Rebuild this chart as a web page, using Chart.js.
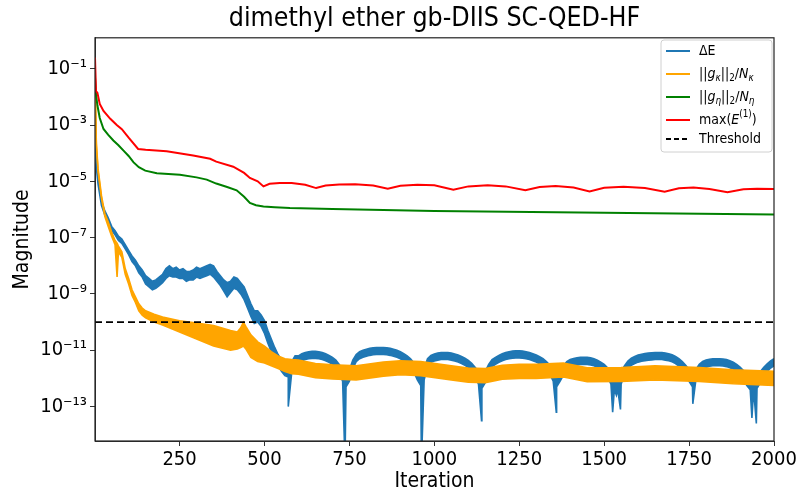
<!DOCTYPE html>
<html>
<head>
<meta charset="utf-8">
<script src="https://cdn.jsdelivr.net/npm/chart.js@4.4.0/dist/chart.umd.min.js"></script>
<style>
    html, body { margin: 0; padding: 0; background: #fff; }
</style>
</head>
<body>
<canvas id="grafico" width="801" height="495"></canvas>
<script>
const FONTE = '"DejaVu Sans Condensed", "Liberation Sans Narrow", "DejaVu Sans", sans-serif';

// iteration grid for ΔE: 1, 5, then every 10 iterations
const iteracoes = [1, 5];
for (let i = 10; i <= 2000; i += 10) iteracoes.push(i);

// all values are log10 of what was read off the picture
// ΔE oscillates fast, so its band is given by an upper and a lower envelope
const dEsup = [-2.1, -4.3,
    -4.9, -5.7, -6.05, -6.3, -6.6, -6.75, -6.95, -7.05, -7.25, -7.45,
    -7.65, -7.8, -8.0, -8.15, -8.35, -8.45, -8.55, -8.5, -8.4, -8.3,
    -8.1, -8.0, -8.1, -8.05, -8.15, -8.1, -8.2, -8.2, -8.15, -8.05,
    -8.1, -8.05, -8.0, -7.95, -8.0, -8.2, -8.35, -8.5, -8.6, -8.55,
    -8.4, -8.45, -8.6, -8.75, -9.05, -9.35, -9.6, -9.6, -9.75, -9.95,
    -10.3, -10.6, -10.9, -11.15, -11.35, -11.5, -11.55, -11.4, -11.2, -11.2,
    -11.12, -11.08, -11.05, -11.04, -11.04, -11.05, -11.08, -11.12, -11.18, -11.25,
    -11.35, -11.5, -11.7, -11.8, -11.7, -11.35, -11.15, -11.05, -11.0, -10.96,
    -10.93, -10.91, -10.9, -10.9, -10.9, -10.91, -10.93, -10.96, -11.0, -11.05,
    -11.12, -11.2, -11.3, -11.45, -11.65, -11.75, -11.65, -11.3, -11.18, -11.13,
    -11.1, -11.08, -11.08, -11.08, -11.1, -11.13, -11.17, -11.22, -11.28, -11.36,
    -11.46, -11.6, -11.75, -11.85, -11.75, -11.5, -11.33, -11.25, -11.18, -11.12,
    -11.08, -11.05, -11.03, -11.02, -11.02, -11.03, -11.05, -11.08, -11.12, -11.17,
    -11.23, -11.3, -11.4, -11.52, -11.68, -11.8, -11.72, -11.55, -11.4, -11.33,
    -11.29, -11.27, -11.25, -11.25, -11.25, -11.27, -11.3, -11.35, -11.42, -11.5,
    -11.62, -11.75, -11.85, -11.85, -11.75, -11.55, -11.38, -11.28, -11.22, -11.17,
    -11.14, -11.12, -11.1, -11.09, -11.08, -11.08, -11.08, -11.1, -11.12, -11.16,
    -11.22, -11.3, -11.4, -11.53, -11.68, -11.78, -11.68, -11.5, -11.4, -11.35,
    -11.32, -11.3, -11.3, -11.3, -11.31, -11.33, -11.37, -11.42, -11.5, -11.6,
    -11.72, -11.82, -11.88, -11.88, -11.85, -11.75, -11.6, -11.48, -11.38, -11.3];

const dEinf = [-2.3, -4.5,
    -5.1, -5.85, -6.2, -6.45, -6.75, -6.9, -7.1, -7.2, -7.4, -7.6,
    -7.85, -8.0, -8.25, -8.4, -8.65, -8.75, -8.85, -8.8, -8.7, -8.6,
    -8.45, -8.35, -8.4, -8.4, -8.45, -8.45, -8.55, -8.5, -8.5, -8.4,
    -8.45, -8.4, -8.35, -8.3, -8.4, -8.55, -8.7, -8.9, -9.1, -8.95,
    -8.8, -8.85, -9.0, -9.2, -9.5, -9.8, -10.05, -10.0, -10.15, -10.4,
    -10.75, -11.05, -11.35, -11.55, -11.75, -11.9, -11.95, -11.8, -11.55, -11.45,
    -11.37, -11.33, -11.3, -11.29, -11.29, -11.3, -11.33, -11.37, -11.43, -11.5,
    -11.62, -11.8, -12.1, -12.3, -12.1, -11.65, -11.4, -11.3, -11.25, -11.21,
    -11.18, -11.16, -11.15, -11.15, -11.15, -11.16, -11.18, -11.21, -11.25, -11.3,
    -11.37, -11.45, -11.58, -11.78, -12.05, -12.25, -12.05, -11.6, -11.43, -11.38,
    -11.35, -11.33, -11.33, -11.33, -11.35, -11.38, -11.42, -11.47, -11.53, -11.62,
    -11.75, -11.95, -12.2, -12.35, -12.15, -11.8, -11.58, -11.5, -11.43, -11.37,
    -11.33, -11.3, -11.28, -11.27, -11.27, -11.28, -11.3, -11.33, -11.37, -11.42,
    -11.48, -11.56, -11.68, -11.85, -12.1, -12.3, -12.1, -11.88, -11.68, -11.58,
    -11.54, -11.52, -11.5, -11.5, -11.5, -11.52, -11.55, -11.6, -11.68, -11.78,
    -11.95, -12.2, -12.4, -12.4, -12.2, -11.88, -11.65, -11.53, -11.47, -11.42,
    -11.39, -11.37, -11.35, -11.34, -11.33, -11.33, -11.33, -11.35, -11.37, -11.41,
    -11.47, -11.56, -11.68, -11.85, -12.1, -12.3, -12.05, -11.8, -11.65, -11.6,
    -11.57, -11.55, -11.55, -11.55, -11.56, -11.58, -11.62, -11.67, -11.76, -11.88,
    -12.05, -12.25, -12.4, -12.4, -12.35, -12.15, -11.9, -11.75, -11.63, -11.55];

// sharp downward spikes of ΔE
const dipIter = [570, 737, 962, 1139, 1359, 1525, 1536, 1548, 1761, 1935, 1948];
const dipExp = [-13.0, -15.0, -15.0, -13.5, -13.2, -13.2, -12.6, -13.1, -12.9, -13.4, -13.6];

// ||g_kappa||_2 / N_kappa band
const iterKappa = [1, 5, 10, 20, 30, 40, 50, 60, 66, 70, 80, 90, 100, 110, 120, 130, 140, 150, 175, 200,
    250, 300, 350, 400, 420, 430, 438, 445, 460, 480, 500, 520, 540, 560, 580, 600, 650, 700, 770, 850,
    900, 960, 1050, 1100, 1150, 1200, 1250, 1300, 1380, 1450, 1550, 1650, 1780, 1880, 2000];
const gKappaSup = [-1.35, -3.65, -4.55, -5.5, -6.15, -6.45, -6.8, -7.1, -7.2, -7.3, -7.5, -8.1, -8.45, -8.85,
    -9.1, -9.35, -9.5, -9.6, -9.72, -9.82, -9.95, -10.03, -10.12, -10.3, -10.35, -10.2, -10.0, -10.15,
    -10.45, -10.7, -10.85, -11.05, -11.2, -11.3, -11.33, -11.35, -11.47, -11.52, -11.55, -11.42, -11.37,
    -11.4, -11.55, -11.63, -11.65, -11.53, -11.5, -11.5, -11.45, -11.62, -11.61, -11.55, -11.61, -11.69, -11.75];
const gKappaInf = [-1.45, -3.75, -4.65, -5.6, -6.25, -6.6, -6.95, -7.25, -8.4, -7.5, -7.7, -8.3, -8.65, -9.05,
    -9.3, -9.6, -9.75, -9.85, -10.0, -10.1, -10.35, -10.6, -10.85, -11.0, -10.95, -10.9, -10.85, -10.95,
    -11.25, -11.4, -11.45, -11.55, -11.65, -11.75, -11.83, -11.85, -11.97, -12.02, -12.05, -11.92, -11.87,
    -11.9, -12.05, -12.13, -12.15, -12.03, -12.0, -12.0, -11.95, -12.12, -12.11, -12.05, -12.11, -12.19, -12.25];

// ||g_eta||_2 / N_eta (smooth)
const iterEta = [1, 4, 8, 15, 26, 40, 55, 70, 85, 100, 114, 130, 149, 183, 251, 300, 330, 358, 390, 418,
    440, 457, 475, 497, 530, 575, 700, 1000, 1500, 2000];
const gEtaExp = [-1.3, -1.9, -2.3, -2.75, -3.14, -3.35, -3.55, -3.72, -3.91, -4.1, -4.32, -4.5, -4.62, -4.71, -4.77,
    -4.86, -4.94, -5.08, -5.2, -5.32, -5.55, -5.77, -5.85, -5.89, -5.92, -5.95, -5.98, -6.05, -6.12, -6.18];

// max(E^(1))
const iterMaxE = [1, 4, 8, 15, 26, 46, 65, 80, 100, 128, 150, 212, 290, 340, 358, 408, 440, 457, 480, 497,
    515, 545, 580, 620, 652, 680, 720, 767, 820, 863, 900, 950, 1000, 1056, 1100, 1157, 1210, 1268, 1310, 1357,
    1410, 1457, 1500, 1557, 1620, 1678, 1720, 1763, 1810, 1863, 1910, 1950, 2000];
const maxEexp = [-0.6, -1.8, -1.85, -2.25, -2.5, -2.78, -3.0, -3.15, -3.45, -3.85, -3.88, -3.93, -4.08, -4.2, -4.3,
    -4.48, -4.7, -4.88, -5.0, -5.18, -5.09, -5.06, -5.06, -5.12, -5.24, -5.15, -5.11, -5.1, -5.15, -5.26,
    -5.16, -5.12, -5.14, -5.3, -5.18, -5.14, -5.18, -5.32, -5.2, -5.17, -5.22, -5.36, -5.23, -5.19, -5.24,
    -5.37, -5.25, -5.22, -5.27, -5.39, -5.28, -5.26, -5.27];

const limiar = 1e-10;
const ticksX = [250, 500, 750, 1000, 1250, 1500, 1750, 2000];
const expoentesY = [-13, -11, -9, -7, -5, -3, -1];

function pontos(xs, exps) {
    return xs.map((x, i) => ({ x: x, y: Math.pow(10, exps[i]) }));
}

// lower ΔE envelope with the spikes merged in
const dEinfPontos = pontos(iteracoes, dEinf).concat(pontos(dipIter, dipExp)).sort((a, b) => a.x - b.x);

const SUPER = { '-': '\u207B', '0': '\u2070', '1': '\u00B9', '2': '\u00B2', '3': '\u00B3', '4': '\u2074',
    '5': '\u2075', '6': '\u2076', '7': '\u2077', '8': '\u2078', '9': '\u2079' };
function sobrescrito(n) {
    return String(n).split('').map(c => SUPER[c]).join('');
}

const legenda = [
    { cor: '#1f77b4', partes: [{ t: '\u0394E' }] },
    { cor: 'orange', partes: [{ t: '||' }, { t: 'g', it: true }, { t: '\u03BA', it: true, sub: true }, { t: '||' },
        { t: '2', sub: true }, { t: '/' }, { t: 'N', it: true }, { t: '\u03BA', it: true, sub: true }] },
    { cor: 'green', partes: [{ t: '||' }, { t: 'g', it: true }, { t: '\u03B7', it: true, sub: true }, { t: '||' },
        { t: '2', sub: true }, { t: '/' }, { t: 'N', it: true }, { t: '\u03B7', it: true, sub: true }] },
    { cor: 'red', partes: [{ t: 'max(' }, { t: 'E', it: true }, { t: '(1)', sup: true }, { t: ')' }] },
    { cor: 'black', tracejado: true, partes: [{ t: 'Threshold' }] }
];

function desenharTexto(ctx, partes, x, y, tam) {
    partes.forEach(p => {
        const t = (p.sub || p.sup) ? tam * 0.7 : tam;
        ctx.font = (p.it ? 'italic ' : '') + t + 'px ' + FONTE;
        const dy = p.sub ? tam * 0.3 : (p.sup ? -tam * 0.4 : 0);
        ctx.fillText(p.t, x, y + dy);
        x += ctx.measureText(p.t).width;
    });
}

const molduraELegenda = {
    id: 'molduraELegenda',
    afterDraw(chart) {
        const ctx = chart.ctx;
        const a = chart.chartArea;
        ctx.save();
        ctx.strokeStyle = '#222';
        ctx.lineWidth = 1.2;
        ctx.strokeRect(a.left, a.top, a.right - a.left, a.bottom - a.top);

        // legend box, top right inside the axes
        const bx = 661, by = 40, bw = 111, bh = 112;
        ctx.fillStyle = 'rgba(255,255,255,0.85)';
        ctx.strokeStyle = '#d0d0d0';
        ctx.lineWidth = 1;
        ctx.beginPath();
        ctx.roundRect(bx, by, bw, bh, 3);
        ctx.fill();
        ctx.stroke();

        const ys = [51, 74, 97, 120, 139];
        ctx.textBaseline = 'middle';
        legenda.forEach((item, i) => {
            ctx.strokeStyle = item.cor;
            ctx.lineWidth = 2;
            ctx.setLineDash(item.tracejado ? [5, 3] : []);
            ctx.beginPath();
            ctx.moveTo(666, ys[i]);
            ctx.lineTo(690, ys[i]);
            ctx.stroke();
            ctx.setLineDash([]);
            ctx.fillStyle = '#000';
            desenharTexto(ctx, item.partes, 699, ys[i], 14);
        });
        ctx.restore();
    }
};

const AZUL = '#1f77b4';
const LARANJA = '#ffa500';

const data = {
    datasets: [
        {
            label: '\u0394E',
            data: pontos(iteracoes, dEsup),
            borderColor: AZUL,
            borderWidth: 1.6,
            order: 4
        },
        {
            label: '\u0394E (min)',
            data: dEinfPontos,
            borderColor: AZUL,
            backgroundColor: AZUL,
            borderWidth: 1.6,
            fill: '-1',
            order: 4
        },
        {
            label: '||g\u03BA||2/N\u03BA',
            data: pontos(iterKappa, gKappaSup),
            borderColor: LARANJA,
            borderWidth: 1.6,
            order: 3
        },
        {
            label: '||g\u03BA||2/N\u03BA (min)',
            data: pontos(iterKappa, gKappaInf),
            borderColor: LARANJA,
            backgroundColor: LARANJA,
            borderWidth: 1.6,
            fill: '-1',
            order: 3
        },
        {
            label: '||g\u03B7||2/N\u03B7',
            data: pontos(iterEta, gEtaExp),
            borderColor: 'green',
            borderWidth: 2,
            order: 2
        },
        {
            label: 'max(E(1))',
            data: pontos(iterMaxE, maxEexp),
            borderColor: 'red',
            borderWidth: 2,
            order: 1
        },
        {
            label: 'Threshold',
            data: [{ x: 1, y: limiar }, { x: 2000, y: limiar }],
            borderColor: 'black',
            borderWidth: 1.8,
            borderDash: [7, 4],
            order: 0
        }
    ]
};

const config = {
    type: 'line',
    data: data,
    options: {
        responsive: false,
        animation: false,
        events: [],
        layout: {
            padding: { left: 0, right: 27, top: 0, bottom: 0 }
        },
        elements: {
            point: { radius: 0 },
            line: { tension: 0, fill: false }
        },
        plugins: {
            legend: { display: false },
            tooltip: { enabled: false },
            title: {
                display: true,
                text: 'dimethyl ether gb-DIIS SC-QED-HF',
                color: '#000',
                fullSize: false,
                font: { family: FONTE, size: 26.5, weight: 'normal' },
                padding: { top: 3, bottom: 3 }
            }
        },
        scales: {
            x: {
                type: 'linear',
                min: 1,
                max: 2000,
                afterBuildTicks: function (scale) {
                    scale.ticks = ticksX.map(v => ({ value: v }));
                },
                afterFit: function (scale) {
                    scale.height = 54;
                },
                ticks: {
                    color: '#000',
                    font: { family: FONTE, size: 20 },
                    padding: 2,
                    maxRotation: 0,
                    autoSkip: false,
                    callback: function (value) {
                        return String(value);
                    }
                },
                grid: {
                    drawOnChartArea: false,
                    drawTicks: true,
                    tickLength: 5,
                    color: '#333'
                },
                border: { display: true, color: '#333' },
                title: {
                    display: true,
                    text: 'Iteration',
                    color: '#000',
                    font: { family: FONTE, size: 21 },
                    padding: { top: 0, bottom: 1 }
                }
            },
            y: {
                type: 'logarithmic',
                min: 6e-15,
                max: 1.25,
                afterBuildTicks: function (scale) {
                    scale.ticks = expoentesY.map(e => ({ value: Math.pow(10, e) }));
                },
                afterFit: function (scale) {
                    scale.width = 95;
                },
                ticks: {
                    color: '#000',
                    font: { family: FONTE, size: 20 },
                    padding: 3,
                    autoSkip: false,
                    callback: function (value) {
                        return '10' + sobrescrito(Math.round(Math.log10(value)));
                    }
                },
                grid: {
                    drawOnChartArea: false,
                    drawTicks: true,
                    tickLength: 5,
                    color: '#333'
                },
                border: { display: true, color: '#333' },
                title: {
                    display: true,
                    text: 'Magnitude',
                    color: '#000',
                    font: { family: FONTE, size: 21 },
                    padding: { top: 10, bottom: 0 }
                }
            }
        }
    },
    plugins: [molduraELegenda]
};

const grafico = new Chart(document.getElementById('grafico'), config);
</script>
</body>
</html>
